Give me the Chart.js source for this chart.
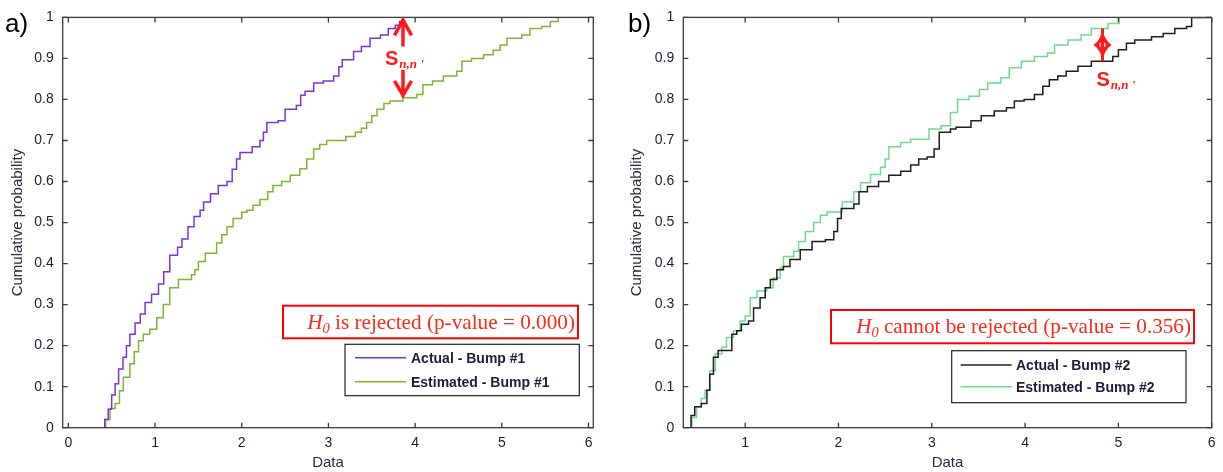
<!DOCTYPE html>
<html>
<head>
<meta charset="utf-8">
<script src="https://cdn.jsdelivr.net/npm/chart.js@4.4.1/dist/chart.umd.min.js"></script>
<style>
  html, body { margin: 0; padding: 0; background: #fff; }
  #wrap { position: relative; width: 1223px; height: 472px; overflow: hidden; }
  canvas { position: absolute; top: 0; }
  #cA { left: 0; }
  #cB { left: 610px; }
  .tag { position: absolute; top: 10px; font: 26px 'Liberation Sans', Arial, sans-serif; line-height: 26px; color: #000; }
</style>
</head>
<body>
<div id="wrap">
  <canvas id="cA" width="610" height="472"></canvas>
  <canvas id="cB" width="613" height="472"></canvas>
  <div class="tag" style="left:5px">a)</div>
  <div class="tag" style="left:628px">b)</div>
</div>
<script>
// ---- values ----
const xTicksA = [0, 1, 2, 3, 4, 5, 6];
const xTicksB = [1, 2, 3, 4, 5, 6];
const yTicks = [0, 0.1, 0.2, 0.3, 0.4, 0.5, 0.6, 0.7, 0.8, 0.9, 1];

// a) bump #1 (empirical CDF steps: x where the step lands, y after the step)
const actual1X = [0.40,0.42,0.46,0.50,0.54,0.58,0.63,0.67,0.71,0.77,0.83,0.885,0.96,1.04,1.10,1.17,1.26,1.31,1.38,1.45,1.52,1.56,1.64,1.73,1.83,1.89,1.94,1.98,2.12,2.21,2.25,2.29,2.42,2.50,2.63,2.68,2.73,2.83,2.94,3.06,3.12,3.16,3.29,3.38,3.48,3.60,3.69,3.77,3.82,3.86];
const actual1Y = [0,0.02,0.045,0.08,0.107,0.143,0.172,0.2,0.228,0.255,0.277,0.305,0.325,0.35,0.38,0.42,0.44,0.46,0.49,0.515,0.53,0.55,0.57,0.59,0.60,0.63,0.655,0.671,0.685,0.70,0.72,0.744,0.748,0.776,0.785,0.81,0.82,0.84,0.845,0.857,0.88,0.897,0.917,0.929,0.949,0.957,0.973,0.981,0.99,1.0];
const estim1X = [0.39,0.43,0.48,0.54,0.59,0.634,0.71,0.76,0.81,0.865,0.94,1.02,1.095,1.17,1.27,1.42,1.46,1.50,1.58,1.71,1.77,1.83,1.90,2.0,2.06,2.13,2.21,2.30,2.36,2.46,2.56,2.67,2.75,2.83,2.90,2.98,3.2,3.31,3.38,3.44,3.50,3.56,3.64,3.71,3.86,4.02,4.09,4.2,4.325,4.48,4.54,4.65,4.79,4.9,4.98,5.06,5.23,5.325,5.46,5.56,5.65];
const estim1Y = [0,0.02,0.047,0.059,0.09,0.123,0.156,0.185,0.212,0.228,0.24,0.268,0.30,0.341,0.361,0.373,0.385,0.405,0.425,0.45,0.47,0.49,0.51,0.525,0.53,0.542,0.556,0.575,0.59,0.60,0.615,0.631,0.655,0.679,0.69,0.70,0.71,0.72,0.73,0.744,0.76,0.776,0.79,0.796,0.804,0.812,0.836,0.845,0.857,0.869,0.893,0.90,0.909,0.92,0.933,0.949,0.957,0.973,0.978,0.99,1.0];

// b) bump #2
const actual2X = [0.38,0.42,0.46,0.53,0.59,0.62,0.66,0.71,0.857,0.91,0.96,1.036,1.09,1.16,1.215,1.27,1.34,1.41,1.48,1.59,1.717,1.86,1.95,1.99,2.03,2.165,2.22,2.31,2.43,2.54,2.667,2.774,2.86,2.95,3.025,3.08,3.20,3.26,3.42,3.53,3.67,3.80,3.885,3.99,4.10,4.19,4.26,4.35,4.44,4.567,4.71,4.94,5.0,5.086,5.175,5.355,5.48,5.605,5.73,5.785,6.0];
const actual2Y = [0,0.03,0.051,0.059,0.091,0.13,0.172,0.188,0.228,0.236,0.252,0.26,0.292,0.317,0.341,0.361,0.385,0.393,0.41,0.434,0.454,0.458,0.478,0.51,0.534,0.545,0.575,0.588,0.60,0.615,0.625,0.64,0.655,0.66,0.679,0.72,0.728,0.732,0.748,0.76,0.772,0.78,0.796,0.80,0.812,0.832,0.848,0.857,0.869,0.881,0.893,0.905,0.921,0.937,0.945,0.953,0.961,0.973,0.978,1.0,1.0];
const estim2X = [0.38,0.43,0.48,0.53,0.57,0.624,0.68,0.75,0.80,0.874,0.946,1.0,1.054,1.126,1.233,1.30,1.376,1.41,1.52,1.573,1.645,1.734,1.806,1.878,2.04,2.165,2.237,2.344,2.45,2.50,2.54,2.667,2.774,2.97,3.10,3.20,3.276,3.40,3.51,3.60,3.74,3.83,3.96,4.10,4.24,4.316,4.46,4.60,4.71,4.89,5.01];
const estim2Y = [0,0.025,0.051,0.071,0.091,0.139,0.18,0.196,0.22,0.236,0.26,0.272,0.317,0.333,0.341,0.365,0.389,0.417,0.43,0.454,0.478,0.50,0.518,0.526,0.55,0.575,0.597,0.617,0.635,0.655,0.685,0.695,0.703,0.728,0.736,0.768,0.80,0.808,0.824,0.84,0.853,0.877,0.893,0.905,0.913,0.933,0.945,0.957,0.973,0.985,1.0];

const names1 = ['Actual - Bump #1', 'Estimated - Bump #1'];
const names2 = ['Actual - Bump #2', 'Estimated - Bump #2'];
const verdict1 = ' is rejected (p-value = 0.000)';
const verdict2 = ' cannot be rejected (p-value = 0.356)';
// largest vertical gap between the two CDFs
const gap1 = { x: 3.86, hi: 1.0, lo: 0.804 };
const gap2 = { x: 4.83, hi: 0.973, lo: 0.893 };

const SANS = "'Liberation Sans', Arial, sans-serif";
const SERIF = "'Liberation Serif', 'Times New Roman', serif";
const RED = '#ff1a1a';
const INK = '#1c1c3c';

function pts(xs, ys) {
  return xs.map((x, i) => ({ x: x, y: ys[i] }));
}

// box round the axes with inward tick marks, like matlab
const frame = {
  id: 'frame',
  afterDatasetsDraw(chart) {
    const { ctx, chartArea: a, scales: { x, y } } = chart;
    ctx.save();
    ctx.strokeStyle = '#3a3a3a';
    ctx.lineWidth = 1.3;
    ctx.strokeRect(a.left, a.top, a.right - a.left, a.bottom - a.top);
    ctx.beginPath();
    x.ticks.forEach(t => {
      const p = x.getPixelForValue(t.value);
      ctx.moveTo(p, a.bottom); ctx.lineTo(p, a.bottom - 5);
      ctx.moveTo(p, a.top); ctx.lineTo(p, a.top + 5);
    });
    y.ticks.forEach(t => {
      const p = y.getPixelForValue(t.value);
      ctx.moveTo(a.left, p); ctx.lineTo(a.left + 5, p);
      ctx.moveTo(a.right, p); ctx.lineTo(a.right - 5, p);
    });
    ctx.stroke();
    ctx.restore();
  }
};

function drawVerdict(ctx, b, rest) {
  ctx.fillStyle = '#fff';
  ctx.fillRect(b.x, b.y, b.w, b.h);
  ctx.strokeStyle = '#ff0000';
  ctx.lineWidth = 2;
  ctx.strokeRect(b.x, b.y, b.w, b.h);
  let fs = 19;
  const measure = () => {
    ctx.font = 'italic ' + fs + 'px ' + SERIF;
    const wH = ctx.measureText('H').width;
    ctx.font = 'italic ' + (fs * 0.68) + 'px ' + SERIF;
    const w0 = ctx.measureText('0').width;
    ctx.font = fs + 'px ' + SERIF;
    const wR = ctx.measureText(rest).width;
    return [wH, w0, wR];
  };
  let w = measure();
  fs = fs * b.textW / (w[0] + w[1] + w[2]);
  w = measure();
  let x = b.x + b.w - 3 - (w[0] + w[1] + w[2]);
  ctx.fillStyle = '#ff2a1a';
  ctx.textBaseline = 'alphabetic';
  ctx.textAlign = 'left';
  ctx.font = 'italic ' + fs + 'px ' + SERIF;
  ctx.fillText('H', x, b.base);
  x += w[0];
  ctx.font = 'italic ' + (fs * 0.68) + 'px ' + SERIF;
  ctx.fillText('0', x, b.base + 4);
  x += w[1];
  ctx.font = fs + 'px ' + SERIF;
  ctx.fillText(rest, x, b.base);
}

function drawLegend(chart, b) {
  const ctx = chart.ctx;
  ctx.fillStyle = '#fff';
  ctx.fillRect(b.x, b.y, b.w, b.h);
  ctx.strokeStyle = '#222';
  ctx.lineWidth = 1.2;
  ctx.strokeRect(b.x, b.y, b.w, b.h);
  chart.data.datasets.forEach((ds, i) => {
    const yy = b.y + b.rows[i];
    ctx.strokeStyle = ds.borderColor;
    ctx.lineWidth = 1.5;
    ctx.beginPath();
    ctx.moveTo(b.x + b.lx0, yy);
    ctx.lineTo(b.x + b.lx1, yy);
    ctx.stroke();
    ctx.fillStyle = INK;
    ctx.font = 'bold 14px ' + SANS;
    ctx.textBaseline = 'middle';
    ctx.fillText(ds.label, b.x + b.tx, yy + 1);
  });
}

function drawSubS(ctx, x, base, big) {
  ctx.fillStyle = RED;
  ctx.textBaseline = 'alphabetic';
  ctx.textAlign = 'left';
  ctx.font = 'bold ' + big + 'px ' + SANS;
  ctx.fillText('S', x, base);
  const w = ctx.measureText('S').width;
  ctx.font = 'italic bold 13px ' + SERIF;
  ctx.fillText("n,n '", x + w + 1, base + 3);
}

const ksDeco = {
  id: 'ksDeco',
  afterDatasetsDraw(chart, args, o) {
    const { ctx, scales: { x, y } } = chart;
    ctx.save();
    const px = x.getPixelForValue(o.gap.x);
    const pt = y.getPixelForValue(o.gap.hi);
    const pb = y.getPixelForValue(o.gap.lo);
    ctx.strokeStyle = RED;
    ctx.fillStyle = RED;
    if (o.mark === 'arrows') {
      ctx.lineWidth = 3.5;
      ctx.lineCap = 'butt';
      ctx.beginPath();
      ctx.moveTo(px, pt + 2); ctx.lineTo(px, pt + 29);
      ctx.moveTo(px - 8.5, pt + 18); ctx.lineTo(px, pt + 2.5); ctx.lineTo(px + 8.5, pt + 18);
      ctx.moveTo(px, pb - 28); ctx.lineTo(px, pb - 1);
      ctx.moveTo(px - 8.5, pb - 17); ctx.lineTo(px, pb - 2.5); ctx.lineTo(px + 8.5, pb - 17);
      ctx.stroke();
      const mid = (pt + pb) / 2;
      drawSubS(ctx, px - 18, mid + 7.5, 20);
    } else {
      const mid = (pt + pb) / 2;
      ctx.beginPath();
      ctx.moveTo(px, pt);
      ctx.quadraticCurveTo(px + 1.5, mid - 5, px + 9, mid);
      ctx.quadraticCurveTo(px + 1.5, mid + 5, px, pb);
      ctx.quadraticCurveTo(px - 1.5, mid + 5, px - 9, mid);
      ctx.quadraticCurveTo(px - 1.5, mid - 5, px, pt);
      ctx.fill();
      ctx.lineWidth = 3;
      ctx.beginPath();
      ctx.moveTo(px, pt); ctx.lineTo(px, pb);
      ctx.stroke();
      ctx.fillStyle = '#ffd0d0';
      ctx.fillRect(px - 3, mid - 2, 1.5, 4);
      ctx.fillRect(px + 1.5, mid - 2, 1.5, 4);
      drawSubS(ctx, px - 6, pb + 25, 20);
    }
    drawVerdict(ctx, o.verdictBox, o.verdict);
    drawLegend(chart, o.legendBox);
    ctx.restore();
  }
};

function makeChart(id, sets, xr, xt, deco, yAxisW, titlePad, rightPad) {
  const tickFont = { family: SANS, size: 14 };
  new Chart(document.getElementById(id), {
    type: 'scatter',
    data: {
      datasets: sets.map(s => ({
        label: s.name,
        data: s.data,
        showLine: true,
        stepped: true,
        borderColor: s.color,
        borderWidth: 1.5,
        pointRadius: 0,
        fill: false
      }))
    },
    options: {
      responsive: false,
      animation: false,
      events: [],
      layout: { padding: { left: 0, top: 14, right: rightPad, bottom: 0 } },
      plugins: {
        legend: { display: false },
        tooltip: { enabled: false },
        ksDeco: deco
      },
      scales: {
        x: {
          type: 'linear', min: xr[0], max: xr[1],
          afterBuildTicks: s => { s.ticks = xt.map(v => ({ value: v })); },
          afterFit: s => { s.height = 44.3; },
          grid: { display: false, drawTicks: false },
          border: { display: false },
          ticks: { padding: 7, font: tickFont, color: INK, maxRotation: 0, autoSkip: false },
          title: { display: true, text: 'Data', color: '#2a2a40', font: { family: SANS, size: 15 }, padding: { top: 1, bottom: 0 } }
        },
        y: {
          type: 'linear', min: 0, max: 1,
          afterBuildTicks: s => { s.ticks = yTicks.map(v => ({ value: v })); },
          afterFit: s => { s.width = yAxisW; },
          grid: { display: false, drawTicks: false },
          border: { display: false },
          ticks: { padding: 9, font: tickFont, color: INK, autoSkip: false,
                   callback: v => String(Math.round(v * 10) / 10) },
          title: { display: true, text: 'Cumulative probability', color: '#2a2a40', font: { family: SANS, size: 15 }, padding: { top: titlePad, bottom: 0 } }
        }
      }
    },
    plugins: [frame, ksDeco]
  });
}

makeChart('cA', [
  { name: names1[0], data: pts(actual1X, actual1Y), color: '#7a33dd' },
  { name: names1[1], data: pts(estim1X, estim1Y), color: '#7cb632' }
], [-0.065, 6.055], xTicksA, {
  mark: 'arrows', gap: gap1, verdict: verdict1,
  verdictBox: { x: 283, y: 305.7, w: 295, h: 32.6, base: 328.5, textW: 268 },
  legendBox: { x: 345, y: 344.3, w: 234.3, h: 51.4, rows: [13.5, 37.5], lx0: 10, lx1: 61, tx: 66 }
}, 62.7, 8.5, 16.7);

makeChart('cB', [
  { name: names2[0], data: pts(actual2X, actual2Y), color: '#1e1e1e' },
  { name: names2[1], data: pts(estim2X, estim2Y), color: '#6edc8c' }
], [0.337, 6.0], xTicksB, {
  mark: 'diamond', gap: gap2, verdict: verdict2,
  verdictBox: { x: 221, y: 310, w: 363, h: 33.3, base: 333, textW: 335 },
  legendBox: { x: 341.7, y: 350.7, w: 234.3, h: 52, rows: [14.3, 36], lx0: 9, lx1: 60, tx: 64.3 }
}, 73.3, 17.7, 11.3);
</script>
</body>
</html>
